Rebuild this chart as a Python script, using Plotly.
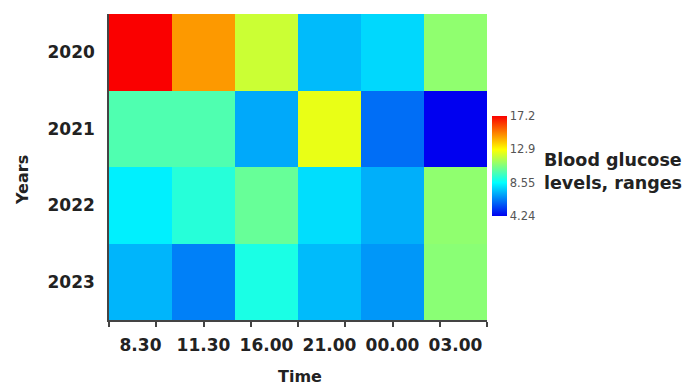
import plotly.graph_objects as go

# Measurement times (columns) and years (rows)
times = ["8.30", "11.30", "16.00", "21.00", "00.00", "03.00"]
years = ["2020", "2021", "2022", "2023"]

# Blood glucose levels per year and time of day
glucose_2020 = [17.2, 14.6, 12.0, 7.4, 7.9, 11.0]
glucose_2021 = [9.9, 9.9, 7.1, 12.5, 6.1, 4.24]
glucose_2022 = [8.3, 9.2, 10.3, 8.0, 7.2, 11.0]
glucose_2023 = [7.3, 6.4, 9.0, 7.4, 6.8, 10.9]

# Colour bar tick values and labels
cbar_vals = [4.24, 8.55, 12.9, 17.2]
cbar_text = ["4.24", "8.55", "12.9", "17.2"]

z = [glucose_2020, glucose_2021, glucose_2022, glucose_2023]
xpos = list(range(len(times)))

jet = [
    [0.0, "rgb(0,0,240)"],
    [1 / 3, "rgb(0,255,255)"],
    [2 / 3, "rgb(255,255,0)"],
    [1.0, "rgb(250,0,0)"],
]

FONT = "DejaVu Sans"
L, R, T, B = 109, 208, 14, 65
W, H = 695, 385
pw, ph = W - L - R, H - T - B


def px_x(px):
    return (px - L) / pw


def px_y(py):
    return (H - B - py) / ph


fig = go.Figure(
    go.Heatmap(
        z=z,
        x=xpos,
        y=years,
        colorscale=jet,
        zmin=min(min(r) for r in z),
        zmax=max(max(r) for r in z),
        xgap=0,
        ygap=0,
        colorbar=dict(
            x=px_x(492),
            xanchor="left",
            xpad=0,
            y=px_y(166),
            yanchor="middle",
            ypad=0,
            lenmode="pixels",
            len=100,
            thickness=15,
            outlinewidth=0,
            tickvals=cbar_vals,
            ticktext=cbar_text,
            ticks="",
            tickfont=dict(family=FONT, size=11.5, color="#555555"),
        ),
        hoverinfo="skip",
    )
)

fig.update_layout(
    width=W,
    height=H,
    margin=dict(l=L, r=R, t=T, b=B, pad=0),
    paper_bgcolor="white",
    plot_bgcolor="white",
    font=dict(family=FONT, color="#222222"),
    xaxis=dict(
        range=[-0.5, len(times) - 0.5],
        tickmode="array",
        tickvals=xpos,
        ticktext=times,
        ticks="",
        ticklabelstandoff=9,
        tickfont=dict(family=FONT, size=17, weight="bold", color="#222222"),
        showline=True,
        linecolor="#444444",
        linewidth=1.5,
        showgrid=False,
        zeroline=False,
        minor=dict(
            tickmode="array",
            tickvals=[-0.5 + 0.75 * k for k in range(9)],
            ticks="outside",
            ticklen=5,
            tickwidth=1.5,
            tickcolor="#444444",
            showgrid=False,
        ),
    ),
    yaxis=dict(
        type="category",
        autorange="reversed",
        ticks="",
        ticklabelstandoff=9,
        tickfont=dict(family=FONT, size=17, weight="bold", color="#222222"),
        showline=True,
        linecolor="#444444",
        linewidth=1.5,
        showgrid=False,
        zeroline=False,
    ),
    annotations=[
        dict(
            text="Time",
            xref="paper", yref="paper",
            x=px_x(300), y=px_y(376),
            xanchor="center", yanchor="middle",
            showarrow=False,
            font=dict(family=FONT, size=16, weight="bold", color="#222222"),
        ),
        dict(
            text="Years",
            xref="paper", yref="paper",
            x=px_x(22), y=px_y(180),
            xanchor="center", yanchor="middle",
            textangle=-90,
            showarrow=False,
            font=dict(family=FONT, size=16, weight="bold", color="#222222"),
        ),
        dict(
            text="Blood glucose<br>levels, ranges",
            xref="paper", yref="paper",
            x=px_x(542), y=px_y(171),
            xanchor="left", yanchor="middle",
            align="left",
            showarrow=False,
            font=dict(family=FONT, size=17.5, weight="bold", color="#222222"),
        ),
    ],
)

fig.write_html("out.html")
